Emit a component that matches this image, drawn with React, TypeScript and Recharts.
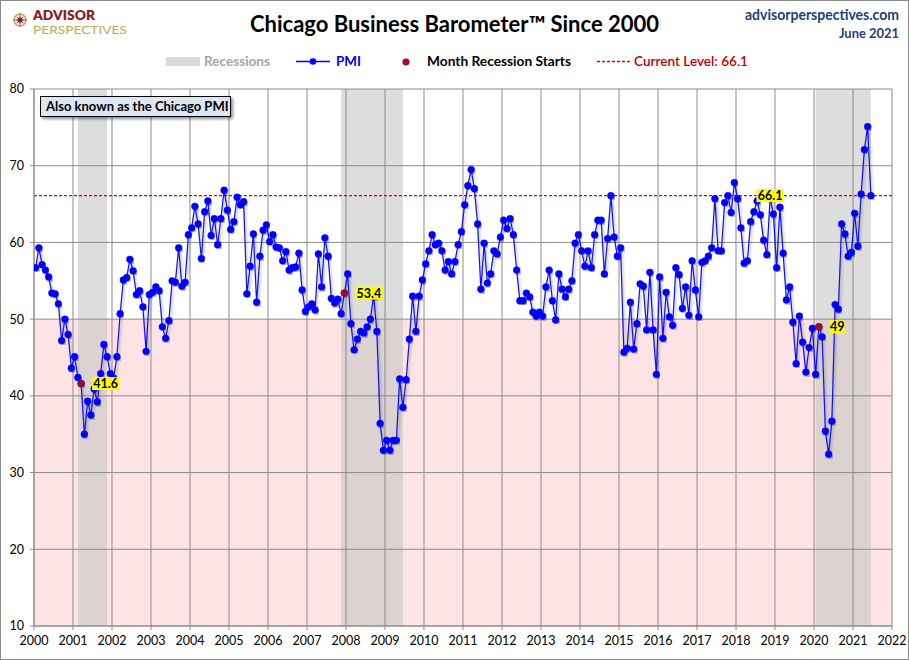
import React from 'react';
import {
  ComposedChart,
  Line,
  XAxis,
  YAxis,
  CartesianGrid,
  ReferenceArea,
  ReferenceLine,
  ReferenceDot,
} from 'recharts';

// ---- data (monthly Chicago PMI) ----
const pmi2000 = [56.7, 59.3, 57.1, 56.4, 55.5, 53.4, 53.3, 52.0, 47.2, 50.0, 48.0, 43.6];
const pmi2001 = [45.1, 42.4, 41.6, 35.0, 39.3, 37.5, 40.9, 39.2, 42.9, 46.7, 45.1, 42.9];
const pmi2002 = [42.3, 45.1, 50.7, 55.1, 55.4, 57.8, 56.3, 53.2, 53.7, 51.6, 45.8, 53.2];
const pmi2003 = [53.5, 54.2, 53.7, 49.0, 47.5, 49.8, 55.0, 54.8, 59.3, 54.3, 54.8, 61.0];
const pmi2004 = [61.9, 64.7, 62.4, 57.9, 64.0, 65.4, 60.9, 63.1, 59.7, 63.1, 66.8, 64.2];
const pmi2005 = [61.7, 62.7, 65.9, 64.9, 65.3, 53.3, 56.9, 61.1, 52.2, 58.2, 61.6, 62.3];
const pmi2006 = [60.1, 61.0, 59.4, 59.3, 57.6, 58.8, 56.4, 56.7, 56.8, 58.6, 53.8, 51.0];
const pmi2007 = [51.6, 52.0, 51.2, 58.5, 54.2, 60.6, 58.2, 52.7, 52.1, 52.6, 50.7, 53.4];
const pmi2008 = [55.9, 49.4, 46.0, 47.4, 48.4, 48.2, 49.0, 50.0, 53.0, 48.4, 36.4, 32.9];
const pmi2009 = [34.2, 32.9, 34.2, 34.2, 42.2, 38.5, 42.1, 47.4, 53.0, 48.4, 53.0, 55.1];
const pmi2010 = [57.2, 58.9, 61.0, 59.7, 59.9, 58.9, 56.4, 57.5, 55.9, 57.5, 59.7, 61.4];
const pmi2011 = [64.9, 67.4, 69.5, 67.0, 62.4, 53.9, 59.9, 54.7, 55.9, 58.9, 58.5, 60.7];
const pmi2012 = [62.9, 61.8, 63.1, 61.0, 56.4, 52.4, 52.4, 53.4, 52.9, 50.9, 50.4, 50.9];
const pmi2013 = [50.4, 54.2, 56.4, 52.4, 49.9, 55.9, 53.9, 52.9, 53.9, 55.0, 59.9, 61.0];
const pmi2014 = [58.9, 56.9, 58.9, 56.7, 61.0, 62.9, 62.9, 55.9, 60.5, 66.1, 60.7, 58.2];
const pmi2015 = [59.3, 45.7, 46.2, 52.2, 46.1, 49.4, 54.6, 54.3, 48.6, 56.1, 48.6, 42.8];
const pmi2016 = [55.5, 47.5, 53.5, 50.3, 49.2, 56.7, 55.8, 51.4, 54.2, 50.5, 57.6, 53.8];
const pmi2017 = [50.3, 57.4, 57.6, 58.2, 59.3, 65.7, 58.9, 58.9, 65.2, 66.1, 63.9, 67.8];
const pmi2018 = [65.7, 61.9, 57.3, 57.6, 62.7, 64.0, 65.4, 63.6, 60.3, 58.4, 65.8, 63.7];
const pmi2019 = [56.7, 64.6, 58.6, 52.5, 54.2, 49.6, 44.2, 50.4, 47.0, 43.1, 46.3, 48.8];
const pmi2020 = [42.8, 49.0, 47.7, 35.4, 32.4, 36.7, 51.9, 51.3, 62.4, 61.1, 58.2, 58.7];
const pmi2021 = [63.8, 59.5, 66.3, 72.1, 75.1, 66.1];

const startYear = 2000;
const pmiByYear = [
  pmi2000, pmi2001, pmi2002, pmi2003, pmi2004, pmi2005, pmi2006, pmi2007,
  pmi2008, pmi2009, pmi2010, pmi2011, pmi2012, pmi2013, pmi2014, pmi2015,
  pmi2016, pmi2017, pmi2018, pmi2019, pmi2020, pmi2021,
];

const yearTicks = [
  2000, 2001, 2002, 2003, 2004, 2005, 2006, 2007, 2008, 2009, 2010,
  2011, 2012, 2013, 2014, 2015, 2016, 2017, 2018, 2019, 2020, 2021, 2022,
];
const valueTicks = [10, 20, 30, 40, 50, 60, 70, 80];

const recessionStarts = ['2001-03', '2007-12', '2020-02'];
const recessionEnds = ['2001-11', '2009-06', '2021-06'];
const currentLevel = 66.1;
const contractionLevel = 50;
const currentLevelMonth = '2018-11';

// ---- helpers ----
const allValues: number[] = pmiByYear.flat();
const monthIndex = (ym: string) => {
  const [y, m] = ym.split('-').map(Number);
  return (y - startYear) * 12 + (m - 1);
};
const monthX = (idx: number) => startYear + (idx + 0.5) / 12;
const rows = allValues.map((v, i) => ({ x: monthX(i), pmi: v }));

const FONT = 'Lato, "Open Sans", "DejaVu Sans", sans-serif';

const ValueTag = ({ cx, cy, text, align }: any) => {
  const w = text.length * 6.3 + 2;
  const left = align === 'center' ? cx - w / 2 : cx + 11;
  return (
    <g>
      <rect x={left} y={cy - 6.5} width={w} height={13} fill="#FFFF00" />
      <text
        x={left + w / 2}
        y={cy + 4.5}
        textAnchor="middle"
        fontFamily={FONT}
        fontWeight={700}
        fontSize={12.5}
        fill="#000"
      >
        {text}
      </text>
    </g>
  );
};

const Logo = () => {
  const pts: string[] = [];
  for (let i = 0; i < 16; i++) {
    const a = (i * Math.PI) / 8 - Math.PI / 2;
    const r = i % 2 === 0 ? (i % 4 === 0 ? 8 : 5.5) : 2;
    pts.push(`${20 + r * Math.cos(a)},${20 + r * Math.sin(a)}`);
  }
  return (
    <g>
      <circle cx={20} cy={20} r={6} fill="none" stroke="#C6A65B" strokeWidth={1.6} />
      <polygon points={pts.join(' ')} fill="#8E1B22" />
      <text x={33} y={19.5} fontFamily={FONT} fontWeight={800} fontSize={12.5} fill="#8E1B22" textLength={62} lengthAdjust="spacingAndGlyphs">
        ADVISOR
      </text>
      <text x={33} y={34} fontFamily={FONT} fontWeight={400} fontSize={12} fill="#C6A65B" textLength={94} lengthAdjust="spacingAndGlyphs">
        PERSPECTIVES
      </text>
    </g>
  );
};

const Header = () => (
  <svg width={909} height={80} style={{ position: 'absolute', left: 0, top: 0, pointerEvents: 'none' }}>
    <Logo />
    <text x={250} y={32} fontFamily={FONT} fontWeight={700} fontSize={22} fill="#000" textLength={409} lengthAdjust="spacingAndGlyphs">
      Chicago Business Barometer™ Since 2000
    </text>
    <text x={899} y={20} textAnchor="end" fontFamily={FONT} fontWeight={700} fontSize={14.5} fill="#1F3F77" textLength={154} lengthAdjust="spacingAndGlyphs">
      advisorperspectives.com
    </text>
    <text x={899} y={37.5} textAnchor="end" fontFamily={FONT} fontWeight={700} fontSize={13} fill="#1F3F77" textLength={60} lengthAdjust="spacingAndGlyphs">
      June 2021
    </text>
    {/* legend */}
    <rect x={166} y={57} width={34} height={9} fill="#D9D9D9" />
    <text x={204} y={66} fontFamily={FONT} fontWeight={700} fontSize={13} fill="#A6A6A6" textLength={66} lengthAdjust="spacingAndGlyphs">
      Recessions
    </text>
    <line x1={296} y1={61.5} x2={330} y2={61.5} stroke="#0000FF" strokeWidth={1.5} />
    <circle cx={313} cy={61.5} r={3.3} fill="#0000FF" />
    <text x={336} y={66} fontFamily={FONT} fontWeight={700} fontSize={13} fill="#0000FF" textLength={25} lengthAdjust="spacingAndGlyphs">
      PMI
    </text>
    <circle cx={406} cy={62} r={3.3} fill="#C00000" stroke="#2020C0" strokeWidth={0.6} />
    <text x={427} y={66} fontFamily={FONT} fontWeight={700} fontSize={13} fill="#000" textLength={144} lengthAdjust="spacingAndGlyphs">
      Month Recession Starts
    </text>
    <line x1={597} y1={61.5} x2={631} y2={61.5} stroke="#E00000" strokeWidth={1.3} strokeDasharray="3 2" />
    <text x={634} y={66} fontFamily={FONT} fontWeight={600} fontSize={13} fill="#C00000" textLength={114} lengthAdjust="spacingAndGlyphs">
      Current Level: 66.1
    </text>
  </svg>
);

export default function App() {
  const tickStyle = { fill: '#000', fontSize: 12.5, fontFamily: FONT };
  return (
    <div style={{ position: 'relative', width: 909, height: 660, background: '#fff', fontFamily: FONT }}>
      <style>{'body{margin:0;}'}</style>
      <ComposedChart width={909} height={660} data={rows} margin={{ top: 89, right: 17, bottom: 0, left: 0 }}>
        <defs>
          <filter id="lineShadow" x="-2%" y="-5%" width="104%" height="115%">
            <feDropShadow dx={1.5} dy={2} stdDeviation={1} floodColor="#000" floodOpacity={0.3} />
          </filter>
        </defs>
        <ReferenceArea y1={10} y2={contractionLevel} fill="#FDE3E3" fillOpacity={1} stroke="none" zIndex={-150} />
        {recessionStarts.map((s, i) => (
          <ReferenceArea
            key={s}
            x1={monthX(monthIndex(s)) - 1 / 12}
            x2={monthX(monthIndex(recessionEnds[i]))}
            fill="#C8C8C8"
            fillOpacity={0.62}
            stroke="none"
            zIndex={-120}
          />
        ))}
        <CartesianGrid stroke="#8C8C8C" strokeWidth={1} fill="none" />
        <XAxis
          type="number"
          dataKey="x"
          domain={[2000, 2022]}
          ticks={yearTicks}
          interval={0}
          allowDataOverflow
          height={34}
          tickSize={4}
          tickMargin={6}
          stroke="#8C8C8C"
          tick={tickStyle}
        />
        <YAxis
          type="number"
          domain={[10, 80]}
          ticks={valueTicks}
          interval={0}
          allowDataOverflow
          width={34}
          tickSize={4}
          tickMargin={6}
          stroke="#8C8C8C"
          tick={tickStyle}
        />
        <ReferenceLine y={currentLevel} stroke="#E00000" strokeWidth={1.3} strokeDasharray="3 2" />
        <Line
          type="linear"
          dataKey="pmi"
          stroke="#0A0AFF"
          strokeWidth={1.2}
          dot={{ r: 3.4, fill: '#0000FF', stroke: '#0000FF', strokeWidth: 0.5 }}
          activeDot={false}
          isAnimationActive={false}
          filter="url(#lineShadow)"
        />
        {recessionStarts.map((s) => (
          <ReferenceDot
            key={'d' + s}
            x={monthX(monthIndex(s))}
            y={allValues[monthIndex(s)]}
            r={3.4}
            fill="#C00000"
            stroke="#3030B0"
            strokeWidth={0.6}
          />
        ))}
        {recessionStarts.map((s) => (
          <ReferenceDot
            key={'t' + s}
            x={monthX(monthIndex(s))}
            y={allValues[monthIndex(s)]}
            r={0}
            shape={(p: any) => <ValueTag cx={p.cx} cy={p.cy} text={String(allValues[monthIndex(s)])} align="right" />}
          />
        ))}
        <ReferenceDot
          x={monthX(monthIndex(currentLevelMonth))}
          y={currentLevel}
          r={0}
          shape={(p: any) => <ValueTag cx={p.cx} cy={p.cy} text={String(currentLevel)} align="center" />}
        />
      </ComposedChart>
      <Header />
      <div
        style={{
          position: 'absolute',
          left: 40,
          top: 96,
          width: 191,
          height: 21,
          boxSizing: 'border-box',
          background: '#DCE6F2',
          border: '1px solid #000',
          boxShadow: '2px 2px 3px rgba(0,0,0,0.45)',
          fontFamily: FONT,
          fontWeight: 700,
          fontSize: 13,
          lineHeight: '19px',
          paddingLeft: 5,
          color: '#000',
          whiteSpace: 'nowrap',
        }}
      >
        Also known as the Chicago PMI
      </div>
      <div
        style={{
          position: 'absolute',
          left: 0,
          top: 0,
          width: 909,
          height: 660,
          boxSizing: 'border-box',
          border: '1px solid #8A8A8A',
          pointerEvents: 'none',
        }}
      />
    </div>
  );
}
